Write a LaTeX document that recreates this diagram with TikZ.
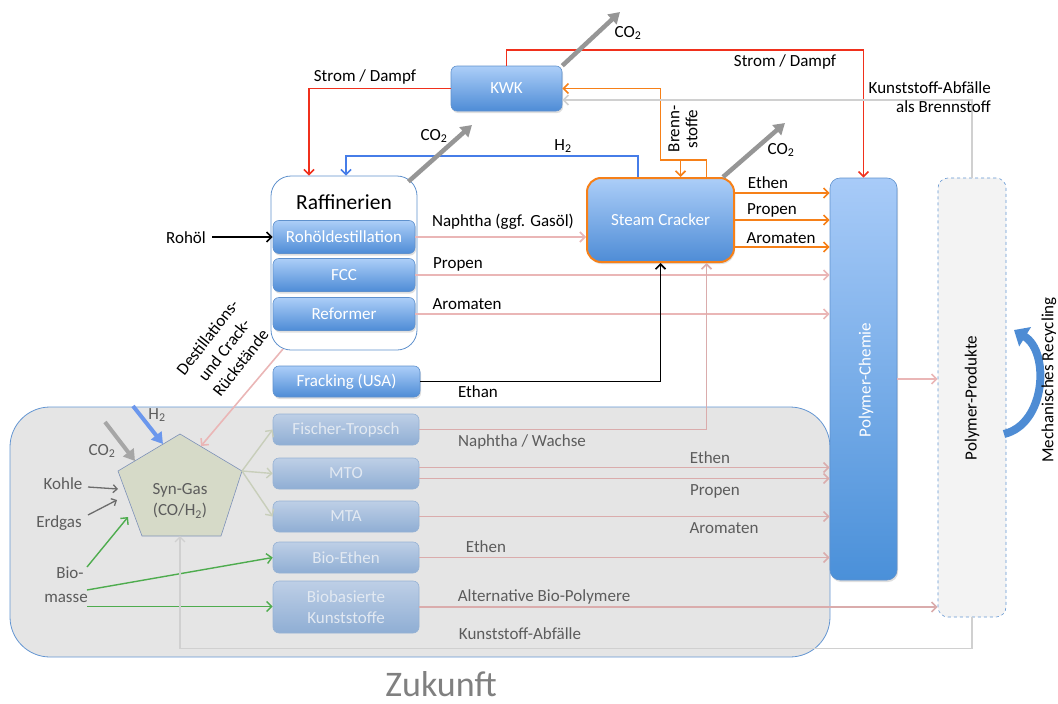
\documentclass[tikz,border=0pt]{standalone}
\usepackage{fontspec}
\setmainfont{Carlito}
\usetikzlibrary{arrows.meta,calc,shadows}
\definecolor{bTop}{RGB}{172,206,248}
\definecolor{bBot}{RGB}{78,140,214}
\definecolor{bBord}{RGB}{95,145,205}
\definecolor{fTop}{RGB}{190,207,230}
\definecolor{fBot}{RGB}{143,174,212}
\definecolor{fBord}{RGB}{150,178,212}
\definecolor{fText}{RGB}{226,233,242}
\definecolor{pinkc}{RGB}{234,182,182}
\definecolor{pinkf}{RGB}{218,172,172}
\definecolor{orangec}{RGB}{246,128,24}
\definecolor{redc}{RGB}{240,48,28}
\definecolor{blueh}{RGB}{70,125,232}
\definecolor{grayco}{RGB}{150,150,150}
\definecolor{lgray}{RGB}{208,208,208}
\definecolor{greenc}{RGB}{78,172,78}
\definecolor{zukFill}{RGB}{229,229,229}
\definecolor{zukBord}{RGB}{100,150,210}
\definecolor{sgFill}{RGB}{214,218,200}
\definecolor{sgBord}{RGB}{125,145,185}
\definecolor{sgArr}{RGB}{200,206,186}
\definecolor{ppFill}{RGB}{243,243,243}
\definecolor{gText}{RGB}{92,92,92}
\definecolor{recyc}{RGB}{78,140,212}
\definecolor{zukText}{RGB}{128,128,128}
\begin{document}
\begin{tikzpicture}[x=1pt,y=-1pt,font=\fontsize{17}{20}\selectfont,
  box/.style={draw=bBord,line width=0.6pt,rounded corners=6pt,top color=bTop,bottom color=bBot,text=white,inner sep=0pt,align=center,
    drop shadow={opacity=0.25,shadow xshift=1pt,shadow yshift=-2pt}},
  fbox/.style={draw=fBord,line width=0.6pt,rounded corners=6pt,top color=fTop,bottom color=fBot,text=fText,inner sep=0pt,align=center},
  lab/.style={inner sep=0pt,text=black,align=center},
  glab/.style={inner sep=0pt,text=gText,align=center},
  arr/.style={line width=1.6pt,-{Straight Barb[length=5pt,width=10pt]}},
  pinkarr/.style={arr,draw=pinkc},
  pinkfarr/.style={arr,draw=pinkf},
  orarr/.style={arr,draw=orangec},
  redarr/.style={arr,draw=redc},
  fatarr/.style={line width=4.5pt,-{Triangle[length=11pt,width=13pt]}}
]
\useasboundingbox (0,0) rectangle (1058,704);

% Zukunft background
\node[draw=zukBord,line width=0.8pt,fill=zukFill,rounded corners=40pt,minimum width=820pt,minimum height=250pt,inner sep=0pt] (zuk) at (420,532) {};
\node[inner sep=0pt,text=zukText,font=\fontsize{36}{40}\selectfont] (zuklab) at (441,684) {Zukunft};

% main nodes
\node[box,minimum width=111pt,minimum height=45pt] (kwk) at (506.5,88.5) {KWK};
\node[draw=bBord,line width=0.8pt,fill=white,rounded corners=20pt,minimum width=146pt,minimum height=174pt,inner sep=0pt] (raff) at (344,263) {};
\node[lab,font=\fontsize{21.5}{24}\selectfont] (rafft) at (344,202) {Raffinerien};
\node[box,minimum width=142pt,minimum height=33pt] (rohdest) at (344,237) {Rohöldestillation};
\node[box,minimum width=142pt,minimum height=33pt] (fcc) at (344,275) {FCC};
\node[box,minimum width=142pt,minimum height=33pt] (reformer) at (344,314) {Reformer};
\node[box,minimum width=147pt,minimum height=31pt] (fracking) at (346.5,381.5) {Fracking (USA)};
\node[box,draw=orangec,line width=2pt,rounded corners=14pt,minimum width=147pt,minimum height=84pt] (cracker) at (660.5,220) {Steam Cracker};
\node[box,rounded corners=10pt,minimum width=67pt,minimum height=402pt,top color={rgb,255:red,168;green,203;blue,248},bottom color={rgb,255:red,74;green,144;blue,217}] (pchem) at (863.5,379) {};
\node[text=white,rotate=90,inner sep=0pt] (pchemt) at (866,380) {Polymer-Chemie};
\node[draw=zukBord,dashed,line width=0.6pt,fill=ppFill,rounded corners=10pt,minimum width=68pt,minimum height=439pt,inner sep=0pt] (pprod) at (972,397.5) {};
\node[lab,rotate=90] (pprodt) at (972,398) {Polymer-Produkte};

% future boxes
\node[fbox,minimum width=146pt,minimum height=31pt] (ft) at (346,429.5) {Fischer-Tropsch};
\node[fbox,minimum width=146pt,minimum height=31pt] (mto) at (346,473.5) {MTO};
\node[fbox,minimum width=146pt,minimum height=31pt] (mta) at (346,516.5) {MTA};
\node[fbox,minimum width=146pt,minimum height=31pt] (bioeth) at (346,557.5) {Bio-Ethen};
\node[fbox,minimum width=146pt,minimum height=52pt,font=\fontsize{17}{21}\selectfont] (biokst) at (346,607) {Biobasierte\\Kunststoffe};

% syngas pentagon
\draw[fill=sgFill,draw=sgBord,line width=0.6pt] (180,434) -- (242,471) -- (221,536) -- (142,536) -- (118,471) -- cycle;
\node[glab,font=\fontsize{17}{21}\selectfont] (syngas) at (180,501) {Syn-Gas\\(CO/H\textsubscript{2})};
\coordinate (sgright) at (242,471);
\coordinate (sgbot) at (180,536);
\coordinate (sgtr) at (201,446);
\coordinate (sgh2) at (163,444);
\coordinate (sgco2) at (135,461);
\coordinate (sgkohle) at (118,489);
\coordinate (sgerd) at (117,500);
\coordinate (sgbio) at (128,517);

% ---------- top connections
\draw[redarr] (kwk.north) -- ++(0,-16) -| (pchem.north);
\draw[redarr] (kwk.west) -| ($(raff.north)+(-35,0)$);
\node[lab] (sd1) at (365,77) {Strom / Dampf};
\node[lab] (sd2) at (785,62) {Strom / Dampf};

\draw[line width=1.6pt,draw=blueh,-{Straight Barb[length=5pt,width=10pt]}] ($(cracker.north)+(-22.5,0)$) -- ++(0,-21) -| ($(raff.north)+(2,0)$);
\node[lab] (h2t) at (563,146) {H\textsubscript{2}};

\draw[orarr] ($(cracker.north)+(46,0)$) -- ++(0,-17) -- ++(-46,0) |- (kwk.east);
\draw[orarr] ($(cracker.north)+(20,-17)$) -- ($(cracker.north)+(20,0)$);
\node[lab,rotate=90,font=\fontsize{17}{18}\selectfont] (brenn) at (683,129) {Brenn-\\stoffe};

\draw[arr,draw=lgray] (pprod.north) |- ($(kwk.east)+(0,11.5)$);
\node[lab,anchor=east,align=right,font=\fontsize{17}{19}\selectfont] (kab) at (991,97) {Kunststoff-Abfälle\\als Brennstoff};

% CO2 arrows
\coordinate (co2a) at (620,12);
\coordinate (co2b) at (472,125);
\coordinate (co2c) at (785,123);
\draw[fatarr,draw=grayco,fill=grayco] (kwk.north east) -- (co2a);
\draw[fatarr,draw=grayco,fill=grayco] ($(raff.north east)+(-9,6)$) -- (co2b);
\draw[fatarr,draw=grayco,fill=grayco] ($(cracker.north east)+(-12,0)$) -- (co2c);
\node[lab] (co2at) at (628,33) {CO\textsubscript{2}};
\node[lab] (co2bt) at (434,136) {CO\textsubscript{2}};
\node[lab] (co2ct) at (781,150) {CO\textsubscript{2}};

% ---------- refinery outputs
\coordinate (rohol) at (212,237);
\node[lab] (roholt) at (186,238) {Rohöl};
\draw[arr,draw=black] (rohol) -- (rohdest.west);
\draw[pinkarr] (rohdest.east) -- (rohdest.east -| cracker.west);
\node[lab] (napht) at (503,222) {Naphtha (ggf. Gasöl)};
\draw[pinkarr] (fcc.east) -- (fcc.east -| pchem.west);
\node[lab] (propt) at (458,264) {Propen};
\draw[pinkarr] (reformer.east) -- (reformer.east -| pchem.west);
\node[lab] (aromt) at (467,304) {Aromaten};
\draw[arr,draw=black] (fracking.east) -| (cracker.south);
\node[lab] (ethant) at (478,392) {Ethan};

% steam cracker outputs
\coordinate (sc1) at (734,193);
\coordinate (sc2) at (734,220);
\coordinate (sc3) at (734,247);
\draw[orarr] (sc1) -- (sc1 -| pchem.west);
\draw[orarr] (sc2) -- (sc2 -| pchem.west);
\draw[orarr] (sc3) -- (sc3 -| pchem.west);
\node[lab] (e1) at (768,183) {Ethen};
\node[lab] (p1) at (772,210) {Propen};
\node[lab] (a1) at (781,238) {Aromaten};

% polymer chemie -> produkte
\draw[pinkarr] (pchem.east) -- (pchem.east -| pprod.west);

% recycling arrow
\draw[line width=8pt,draw=recyc,-{Triangle[length=13pt,width=22pt]}] (1004,434) .. controls (1046,424) and (1050,352) .. (1014,330);
\node[lab,rotate=90] (mechrec) at (1049,380) {Mechanisches Recycling};

% destillations residues
\coordinate (rueck) at (283,349);
\draw[pinkarr] (rueck) -- (sgtr);
\node[lab,rotate=52,font=\fontsize{17}{21}\selectfont] (ruckt) at (224,350) {Destillations-\\und Crack-\\Rückstände};

% ---------- future region
\draw[fatarr,line width=4pt,draw=blueh!80,fill=blueh!80] (133,406) -- (sgh2);
\node[glab] (h2z) at (157,415) {H\textsubscript{2}};
\draw[fatarr,line width=4pt,draw=grayco!85,fill=grayco!85] (105,422) -- (sgco2);
\node[glab] (co2z) at (102,451) {CO\textsubscript{2}};
\node[glab] (kohle) at (63,484) {Kohle};
\node[glab] (erdgas) at (59,523) {Erdgas};
\node[glab,font=\fontsize{17}{24}\selectfont] (biomasse) at (66,585) {\hspace*{8pt}Bio-\\masse};
\draw[line width=1.3pt,draw=gText!90,-{Straight Barb[length=4pt,width=8pt]}] (88,487) -- (sgkohle);
\draw[line width=1.3pt,draw=gText!90,-{Straight Barb[length=4pt,width=8pt]}] (88,515) -- (sgerd);
\coordinate (bm1) at (87,567);
\coordinate (bm2) at (87,590);
\coordinate (bm3) at (87,606.5);
\draw[arr,line width=1.4pt,draw=greenc] (bm1) -- (sgbio);
\draw[arr,line width=1.4pt,draw=greenc] (bm2) -- (bioeth.west);
\draw[arr,line width=1.4pt,draw=greenc] (bm3) -- (bm3 -| biokst.west);

\draw[arr,line width=1.4pt,draw=sgArr] (sgright) -- (ft.west);
\draw[arr,line width=1.4pt,draw=sgArr] (sgright) -- (mto.west);
\draw[arr,line width=1.4pt,draw=sgArr] (sgright) -- (mta.west);

\draw[pinkfarr] (ft.east) -| ($(cracker.south)+(46,0)$);
\node[glab] (nwt) at (522,442) {Naphtha / Wachse};
\coordinate (mto1) at ($(mto.east)+(0,-6)$);
\coordinate (mto2) at ($(mto.east)+(0,5)$);
\draw[pinkfarr] (mto1) -- (mto1 -| pchem.west);
\draw[pinkfarr] (mto2) -- (mto2 -| pchem.west);
\node[glab] (e2) at (710,458) {Ethen};
\node[glab] (p2) at (715,491) {Propen};
\draw[pinkfarr] (mta.east) -- (mta.east -| pchem.west);
\node[glab] (a2) at (724,528) {Aromaten};
\draw[pinkfarr] (bioeth.east) -- (bioeth.east -| pchem.west);
\node[glab] (e3) at (486,547) {Ethen};
\draw[pinkfarr] (biokst.east) -- (biokst.east -| pprod.west);
\node[glab] (abp) at (544,597) {Alternative Bio-Polymere};
\draw[arr,line width=1.4pt,draw=lgray] (pprod.south) -- ++(0,31) -| (sgbot);
\node[glab] (kabf) at (520,634) {Kunststoff-Abfälle};
\end{tikzpicture}
\end{document}
